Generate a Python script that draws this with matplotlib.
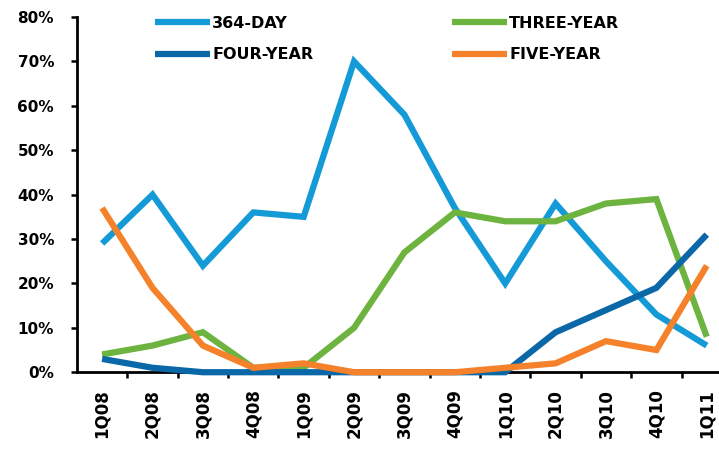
import matplotlib.pyplot as plt
import numpy as np

# Квартальные доли по срокам размещения, %
quarters = ['1Q08', '2Q08', '3Q08', '4Q08', '1Q09', '2Q09', '3Q09',
            '4Q09', '1Q10', '2Q10', '3Q10', '4Q10', '1Q11']
day_364 = [29, 40, 24, 36, 35, 70, 58, 37, 20, 38, 25, 13, 6]
three_year = [4, 6, 9, 1, 1, 10, 27, 36, 34, 34, 38, 39, 8]
four_year = [3, 1, 0, 0, 0, 0, 0, 0, 0, 9, 14, 19, 31]
five_year = [37, 19, 6, 1, 2, 0, 0, 0, 1, 2, 7, 5, 24]

series_names = ['364-DAY', 'THREE-YEAR', 'FOUR-YEAR', 'FIVE-YEAR']
series_colors = ['#149ad6', '#6db33f', '#0a67a8', '#f5822a']

plt.rcParams['font.family'] = ['DejaVu Sans']
plt.rcParams['font.weight'] = 'bold'

fig = plt.figure(figsize=(7.19, 4.49), dpi=100)
ax = fig.add_axes([0.107, 0.171, 0.911, 0.791])

x = np.arange(len(quarters))
lines = {}
for name, vals, col in zip(series_names, [day_364, three_year, four_year, five_year], series_colors):
    ln, = ax.plot(x, vals, color=col, lw=4.5, solid_capstyle='butt',
                  solid_joinstyle='miter', clip_on=False, zorder=3, label=name)
    lines[name] = ln

ax.set_xlim(-0.5, len(quarters) - 0.5)
ax.set_ylim(0, 80)

ax.set_yticks(np.arange(0, 81, 10))
ax.set_yticklabels([f'{v}%' for v in range(0, 81, 10)], fontsize=11, fontweight='bold')
ax.set_xticks(x)
ax.set_xticklabels(quarters, rotation=90, fontsize=12, fontweight='bold')
ax.set_xticks(x[:-1] + 0.5, minor=True)
ax.tick_params(axis='x', which='major', length=0, pad=12)
ax.tick_params(axis='x', which='minor', length=4.5, width=1.8, direction='out')
ax.tick_params(axis='y', length=4.5, width=1.8, direction='out', pad=12)

for side in ['top', 'right']:
    ax.spines[side].set_visible(False)
for side in ['left', 'bottom']:
    ax.spines[side].set_linewidth(2)
    ax.spines[side].set_zorder(2)

order = ['364-DAY', 'FOUR-YEAR', 'THREE-YEAR', 'FIVE-YEAR']
leg = ax.legend([lines[n] for n in order], order, ncol=2, frameon=False,
                loc='upper left', bbox_to_anchor=(0.2156, 0.965),
                bbox_transform=fig.transFigure, borderaxespad=0, borderpad=0,
                prop={'weight': 'bold', 'size': 11.5},
                handlelength=3.45, handletextpad=0.12, columnspacing=8.7,
                labelspacing=1.05)

fig.savefig('out.png', dpi=100)
